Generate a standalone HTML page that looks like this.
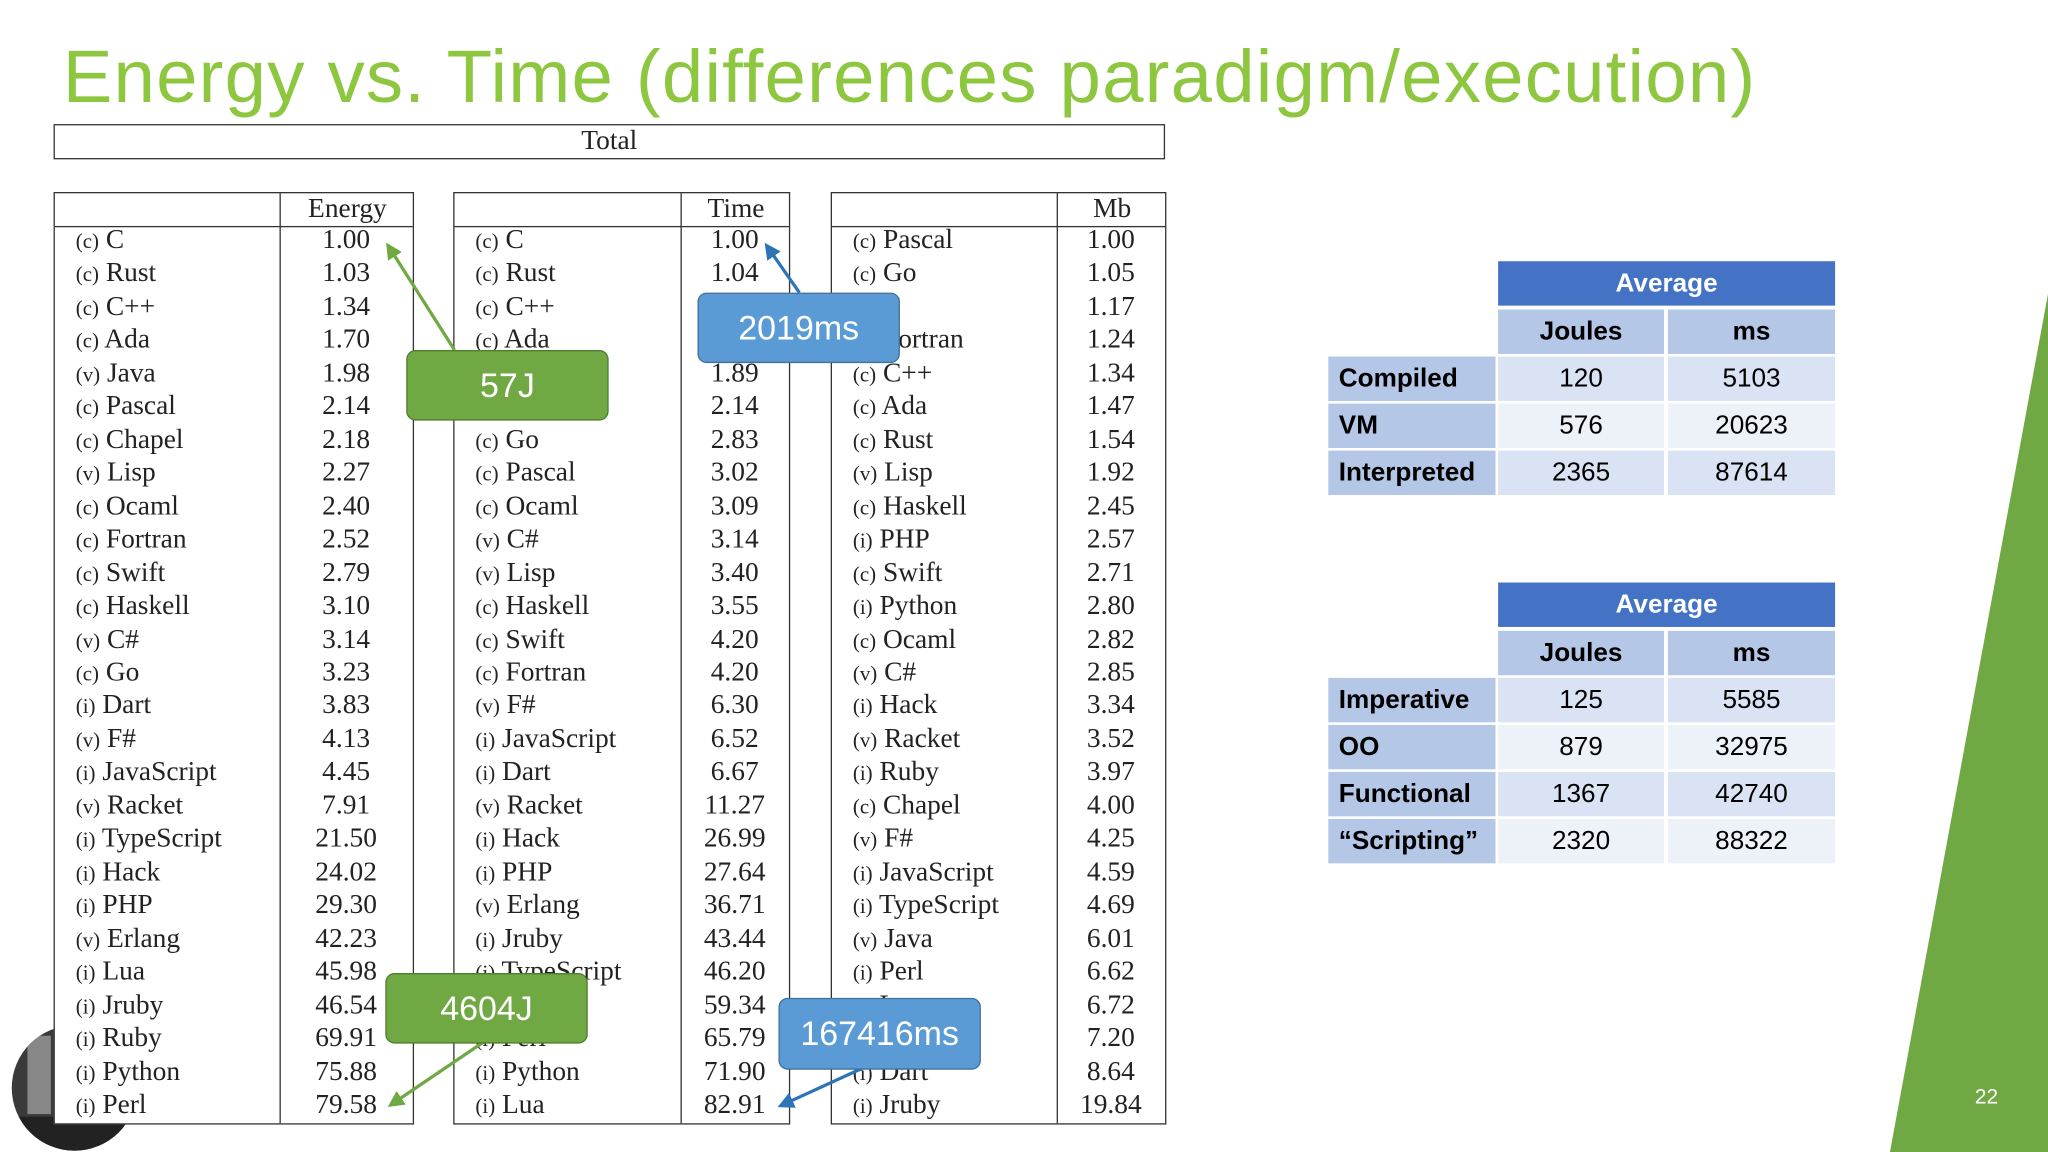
<!DOCTYPE html>
<html><head><meta charset="utf-8">
<style>
html,body{margin:0;padding:0;background:#fff;width:2048px;height:1152px;overflow:hidden}
#stage{position:absolute;left:0;top:0;width:1568px;height:882px;transform:scale(1.306122);transform-origin:0 0;font-family:"Liberation Sans",sans-serif}
.abs{position:absolute}
.tbl{position:absolute;border:1.5px solid #333;box-sizing:border-box;font-family:"Liberation Serif",serif;color:#222;background:#fff}
.hdr{position:absolute;left:0;right:0;top:0;height:25px;border-bottom:1.5px solid #333}
.vline{position:absolute;top:0;bottom:0;border-left:1.5px solid #333}
.cell{position:absolute;font-size:21px;line-height:25px;white-space:nowrap}
.cell small{font-size:16px}
.callout{position:absolute;border-radius:7px;color:#fff;font-size:26px;display:flex;align-items:center;justify-content:center;box-sizing:border-box}
.g{background:#70a844;border:1.5px solid #507e30}
.b{background:#5b9bd5;border:1.5px solid #41719c}
.rc{position:absolute;display:flex;align-items:center;justify-content:center;font-size:20px;color:#000;box-sizing:border-box}
.lab{justify-content:flex-start;padding-left:8px;font-weight:bold;background:#b4c7e7}
</style></head><body>
<div id="stage">
<div class="abs" style="left:48px;top:26px;font-size:57px;color:#8dc63f;white-space:nowrap;letter-spacing:0.9px">Energy vs. Time (differences paradigm/execution)</div>
<div class="tbl" style="left:41px;top:95px;width:851px;height:27px"><div class="cell" style="left:0;right:0;text-align:center;top:-1px">Total</div></div>
<svg class="abs" style="left:0;top:0" width="1568" height="882"><polygon points="1568,225 1568,882 1447,882" fill="#70a844"/></svg>
<div class="abs" style="left:1512px;top:832px;color:#fff;font-size:16px">22</div>
<div class="abs" style="left:9px;top:785px;width:96px;height:96px;border-radius:50%;background:#3a3a3a;overflow:hidden"><div style="position:absolute;left:12px;top:8px;width:18px;height:60px;background:#bbb;opacity:.6"></div><div style="position:absolute;left:0;top:70px;width:96px;height:26px;background:#222"></div></div>
<div id="tables"></div>
<div id="avg"></div>
<svg class="abs" style="left:0;top:0" width="1568" height="882">
<defs><marker id="ag" markerWidth="5" markerHeight="5" refX="2.5" refY="2.5" orient="auto"><path d="M0,0 L5,2.5 L0,5z" fill="#70a844"/></marker>
<marker id="ab" markerWidth="5" markerHeight="5" refX="2.5" refY="2.5" orient="auto"><path d="M0,0 L5,2.5 L0,5z" fill="#2e75b6"/></marker></defs>
<line x1="348" y1="268" x2="299" y2="191" stroke="#70a844" stroke-width="2.5" marker-end="url(#ag)"/>
<line x1="370" y1="798" x2="302" y2="844" stroke="#70a844" stroke-width="2.5" marker-end="url(#ag)"/>
<line x1="612" y1="224" x2="589" y2="191" stroke="#2e75b6" stroke-width="2.5" marker-end="url(#ab)"/>
<line x1="660" y1="818" x2="601" y2="845" stroke="#2e75b6" stroke-width="2.5" marker-end="url(#ab)"/>
</svg>
<div class="callout g" style="left:311px;top:268px;width:155px;height:54px">57J</div>
<div class="callout b" style="left:534px;top:224px;width:155px;height:54px">2019ms</div>
<div class="callout g" style="left:295px;top:745px;width:155px;height:54px">4604J</div>
<div class="callout b" style="left:596px;top:764px;width:155px;height:55px">167416ms</div>
</div>
<script>
const energyNames=["(c) C","(c) Rust","(c) C++","(c) Ada","(v) Java","(c) Pascal","(c) Chapel","(v) Lisp","(c) Ocaml","(c) Fortran","(c) Swift","(c) Haskell","(v) C#","(c) Go","(i) Dart","(v) F#","(i) JavaScript","(v) Racket","(i) TypeScript","(i) Hack","(i) PHP","(v) Erlang","(i) Lua","(i) Jruby","(i) Ruby","(i) Python","(i) Perl"];
const energyValues=["1.00","1.03","1.34","1.70","1.98","2.14","2.18","2.27","2.40","2.52","2.79","3.10","3.14","3.23","3.83","4.13","4.45","7.91","21.50","24.02","29.30","42.23","45.98","46.54","69.91","75.88","79.58"];
const timeNames=["(c) C","(c) Rust","(c) C++","(c) Ada","(v) Java","(c) Chapel","(c) Go","(c) Pascal","(c) Ocaml","(v) C#","(v) Lisp","(c) Haskell","(c) Swift","(c) Fortran","(v) F#","(i) JavaScript","(i) Dart","(v) Racket","(i) Hack","(i) PHP","(v) Erlang","(i) Jruby","(i) TypeScript","(i) Ruby","(i) Perl","(i) Python","(i) Lua"];
const timeValues=["1.00","1.04","1.56","1.85","1.89","2.14","2.83","3.02","3.09","3.14","3.40","3.55","4.20","4.20","6.30","6.52","6.67","11.27","26.99","27.64","36.71","43.44","46.20","59.34","65.79","71.90","82.91"];
const mbNames=["(c) Pascal","(c) Go","(c) C","(c) Fortran","(c) C++","(c) Ada","(c) Rust","(v) Lisp","(c) Haskell","(i) PHP","(c) Swift","(i) Python","(c) Ocaml","(v) C#","(i) Hack","(v) Racket","(i) Ruby","(c) Chapel","(v) F#","(i) JavaScript","(i) TypeScript","(v) Java","(i) Perl","(i) Lua","(v) Erlang","(i) Dart","(i) Jruby"];
const mbValues=["1.00","1.05","1.17","1.24","1.34","1.47","1.54","1.92","2.45","2.57","2.71","2.80","2.82","2.85","3.34","3.52","3.97","4.00","4.25","4.59","4.69","6.01","6.62","6.72","7.20","8.64","19.84"];
const execLabels=["Compiled","VM","Interpreted"];
const execJoules=["120","576","2365"];
const execMs=["5103","20623","87614"];
const paraLabels=["Imperative","OO","Functional","\u201cScripting\u201d"];
const paraJoules=["125","879","1367","2320"];
const paraMs=["5585","32975","42740","88322"];

const T=document.getElementById('tables');
function makeTable(name,left,width,split,title,names,vals){
  const t=document.createElement('div');
  t.className='tbl';
  
  
  t.style.cssText=`left:${left}px;top:147px;width:${width}px;height:714px`;
  t.innerHTML=`<div class="hdr"></div><div class="vline" style="left:${split}px"></div>`;
  const h=document.createElement('div');
  h.className='cell';
  
  
  h.style.cssText=`left:${split}px;width:${width-split}px;text-align:center;top:-1px`;
  h.textContent=title;t.appendChild(h);
  names.forEach((n,i)=>{
    const y=25+i*25.46-2;
    const c=document.createElement('div');c.className='cell';
    
    
    c.style.cssText=`left:16px;top:${y}px`;
    const m=n.match(/^(\(.\)) (.*)$/);
    c.innerHTML=`<small>${m[1]}</small> ${m[2]}`;t.appendChild(c);
    const v=document.createElement('div');v.className='cell';
    
    
    v.style.cssText=`left:${split}px;width:${width-split-2}px;text-align:center;top:${y}px`;
    v.textContent=vals[i];t.appendChild(v);
  });
  T.appendChild(t);
}
makeTable('energy-table',41,276,172,'Energy',energyNames,energyValues);
makeTable('time-table',347,258,173,'Time',timeNames,timeValues);
makeTable('mb-table',636,257,172,'Mb',mbNames,mbValues);

const A=document.getElementById('avg');
function rc(name,x,y,w,h,txt,style,cls){
  const d=document.createElement('div');d.className='rc '+(cls||'');
  
  
  d.style.cssText=`left:${x}px;top:${y}px;width:${w}px;height:${h}px;${style}`;
  d.textContent=txt;A.appendChild(d);
}
function avgTable(prefix,top,labels,j,ms){
  rc(prefix+'-average-header',1147,top,258,34,'Average','background:#4472c4;color:#fff;font-weight:bold');
  rc(prefix+'-joules-header',1147,top+37,127,34,'Joules','background:#b4c7e7;font-weight:bold');
  rc(prefix+'-ms-header',1277,top+37,128,34,'ms','background:#b4c7e7;font-weight:bold');
  labels.forEach((l,i)=>{
    const y=top+73+i*36;
    const bg=i%2===0?'#dae3f3':'#edf1f8';
    rc(prefix+'-row-label',1017,y,128,34,l,'','lab');
    rc(prefix+'-joules-cell',1147,y,127,34,j[i],'background:'+bg);
    rc(prefix+'-ms-cell',1277,y,128,34,ms[i],'background:'+bg);
  });
}
avgTable('execution',200,execLabels,execJoules,execMs);
avgTable('paradigm',446,paraLabels,paraJoules,paraMs);
</script>
</body></html>
